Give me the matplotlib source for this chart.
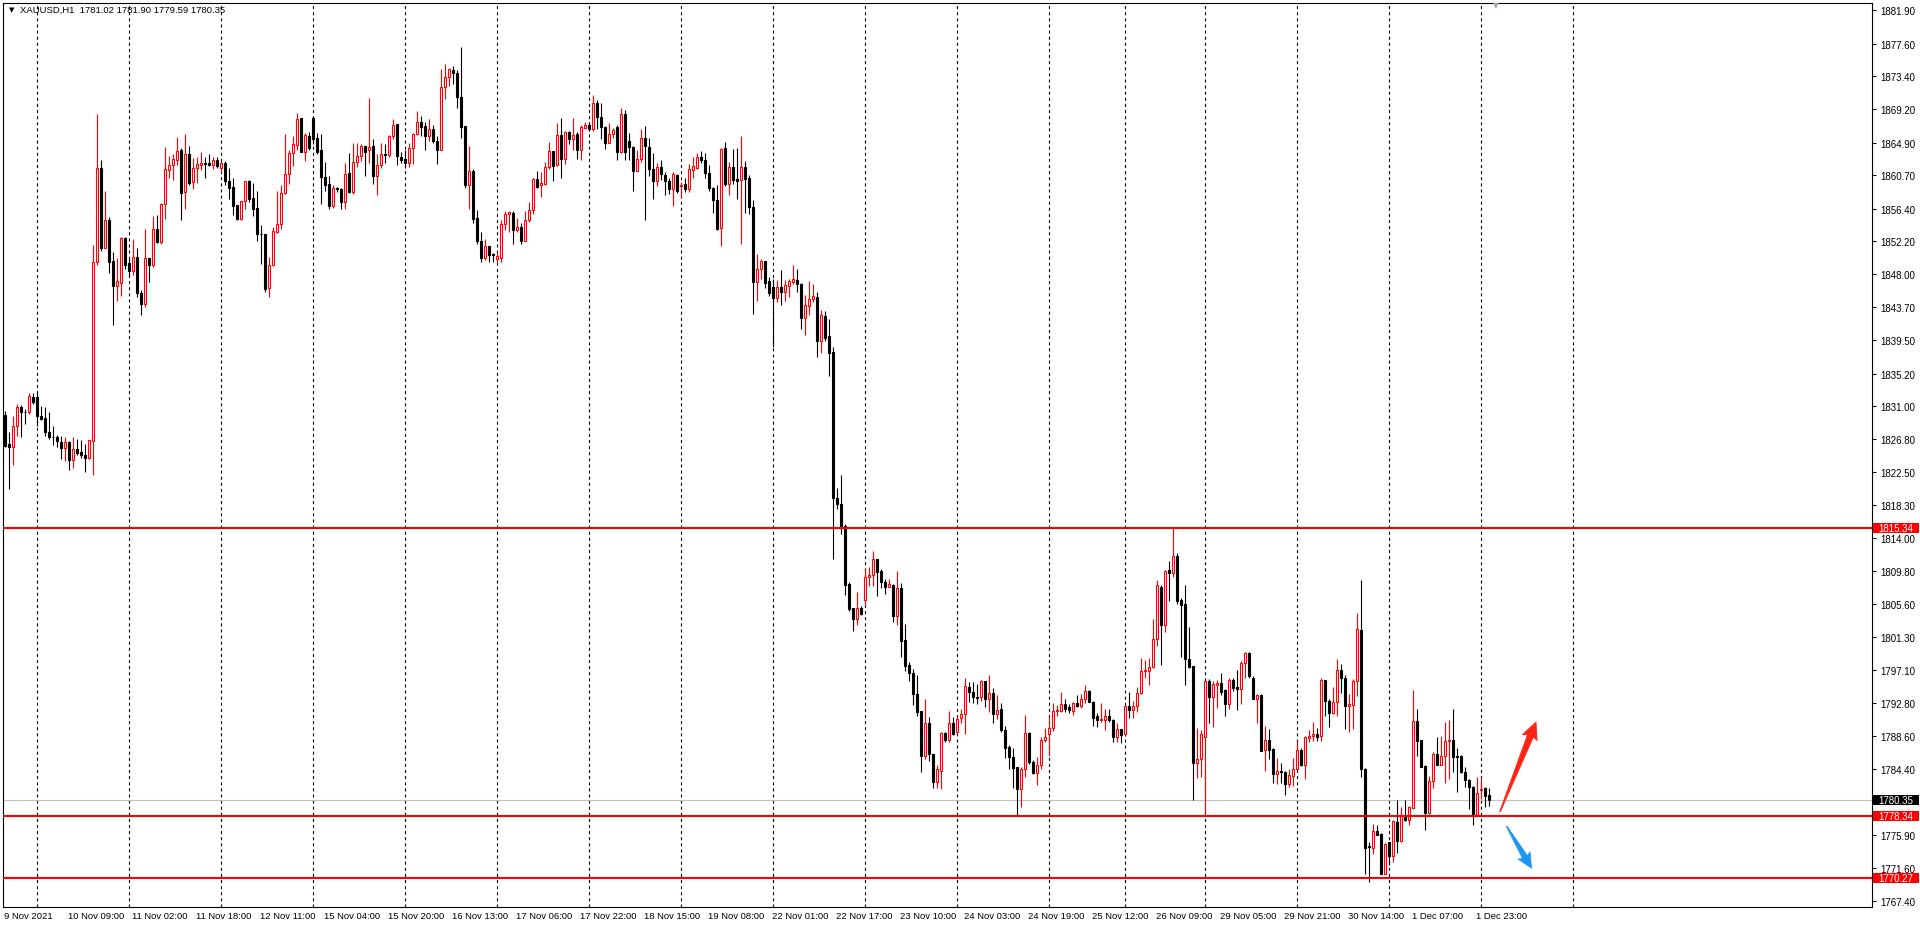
import numpy as np
import matplotlib
matplotlib.use("Agg")
import matplotlib.pyplot as plt
from matplotlib.patches import Polygon, Rectangle
from matplotlib.transforms import blended_transform_factory, IdentityTransform

plt.rcParams["font.family"] = ["Liberation Sans", "DejaVu Sans"]
plt.rcParams["lines.scale_dashes"] = False

# XAUUSD H1 bars (open, high, low, close), oldest first
opens = [
    1829.9, 1826.2, 1825.8, 1828.4, 1830.9, 1830.3, 1830.2, 1832.2, 1832.2, 1829.8,
    1829.5, 1827.7, 1827.1, 1827.1, 1826.4, 1825.6, 1826.4, 1824.1, 1825.5, 1825.1,
    1824.7, 1824.3, 1826.5, 1849.6, 1861.6, 1851.4, 1855.0, 1849.7, 1846.5, 1846.9,
    1852.6, 1849.4, 1848.4, 1850.2, 1845.6, 1844.2, 1850.0, 1849.2, 1853.8, 1852.1,
    1857.0, 1861.4, 1862.0, 1862.7, 1864.0, 1858.5, 1863.4, 1859.8, 1861.6, 1862.0,
    1862.3, 1862.3, 1862.0, 1862.7, 1861.6, 1862.3, 1859.9, 1859.2, 1856.9, 1855.1,
    1857.4, 1859.9, 1857.8, 1856.5, 1853.2, 1853.2, 1846.2, 1849.1, 1853.4, 1854.4,
    1858.4, 1860.8, 1863.5, 1864.6, 1868.1, 1863.7, 1865.8, 1868.1, 1865.5, 1863.9,
    1860.5, 1859.6, 1856.8, 1859.0, 1858.9, 1857.2, 1861.0, 1858.5, 1862.4, 1863.2,
    1864.4, 1863.9, 1864.4, 1860.6, 1862.0, 1863.4, 1863.3, 1865.7, 1867.3, 1863.1,
    1862.8, 1862.3, 1864.2, 1866.0, 1867.5, 1867.0, 1865.7, 1866.6, 1865.1, 1863.9,
    1872.1, 1873.3, 1874.2, 1873.9, 1870.7, 1867.0, 1859.4, 1861.3, 1855.2, 1852.2,
    1850.1, 1851.6, 1850.6, 1849.9, 1850.1, 1854.4, 1855.7, 1855.9, 1853.6, 1854.1,
    1852.3, 1854.9, 1856.2, 1860.2, 1859.4, 1859.6, 1861.7, 1863.8, 1862.0, 1865.9,
    1862.8, 1866.2, 1865.4, 1866.0, 1863.9, 1866.8, 1867.2, 1866.6, 1870.0, 1868.2,
    1866.9, 1864.9, 1866.0, 1866.9, 1863.7, 1868.6, 1865.1, 1864.3, 1861.3, 1862.8,
    1865.5, 1864.3, 1861.5, 1860.0, 1861.7, 1860.7, 1859.9, 1858.9, 1860.7, 1859.3,
    1859.6, 1858.9, 1861.4, 1861.6, 1863.1, 1862.7, 1861.0, 1859.1, 1857.5, 1853.9,
    1864.2, 1859.6, 1861.7, 1860.2, 1860.1, 1861.7, 1860.3, 1856.6, 1847.0, 1848.7,
    1849.7, 1847.1, 1846.3, 1844.9, 1846.3, 1845.7, 1846.4, 1847.0, 1847.2, 1846.7,
    1842.4, 1843.9, 1844.8, 1845.1, 1839.4, 1842.6, 1840.0, 1838.0, 1819.2, 1818.4,
    1815.6, 1808.1, 1805.1, 1803.6, 1805.1, 1806.1, 1809.0, 1809.3, 1811.3, 1809.8,
    1808.4, 1807.8, 1808.0, 1804.0, 1807.6, 1800.9, 1797.7, 1796.7, 1794.0, 1791.8,
    1786.0, 1790.3, 1786.3, 1782.7, 1784.1, 1789.0, 1788.1, 1790.3, 1789.1, 1790.9,
    1791.4, 1794.9, 1794.2, 1793.6, 1793.6, 1795.6, 1793.3, 1794.1, 1791.4, 1792.0,
    1789.3, 1787.2, 1785.9, 1784.6, 1781.8, 1784.4, 1789.0, 1785.3, 1783.8, 1784.8,
    1788.1, 1788.9, 1789.6, 1791.8, 1791.8, 1792.7, 1792.3, 1791.8, 1792.8, 1792.4,
    1793.3, 1794.4, 1793.0, 1791.1, 1790.7, 1790.7, 1791.1, 1790.7, 1788.4, 1789.5,
    1788.8, 1792.5, 1791.9, 1792.4, 1794.1, 1796.9, 1797.0, 1797.4, 1801.0, 1807.8,
    1802.8, 1809.9, 1809.6, 1811.7, 1806.1, 1805.6, 1798.5, 1797.6, 1785.1, 1785.6,
    1788.4, 1795.6, 1793.6, 1795.2, 1795.4, 1794.5, 1792.7, 1795.8, 1794.9, 1794.6,
    1798.0, 1799.3, 1796.1, 1793.4, 1793.9, 1786.8, 1788.1, 1786.9, 1783.7, 1784.1,
    1784.0, 1782.4, 1783.4, 1784.4, 1786.8, 1784.9, 1788.3, 1788.6, 1788.9, 1788.6,
    1795.8, 1793.1, 1791.6, 1792.9, 1797.1, 1796.1, 1792.4, 1792.6, 1795.6, 1802.2,
    1784.4, 1774.4, 1774.2, 1776.4, 1776.0, 1770.9, 1774.9, 1773.1, 1777.5, 1775.1,
    1778.3, 1777.8, 1779.3, 1790.5, 1788.1, 1784.7, 1778.7, 1782.8, 1786.3, 1784.9,
    1786.0, 1787.9, 1788.1, 1786.0, 1786.0, 1784.0, 1782.9, 1782.0, 1778.4, 1781.6,
    1781.9, 1781.02,
]
highs = [
    1830.4, 1827.7, 1829.8, 1831.3, 1831.2, 1830.6, 1832.7, 1832.7, 1832.7, 1831.0,
    1830.9, 1830.2, 1828.5, 1827.3, 1827.2, 1827.1, 1826.5, 1827.1, 1826.8, 1826.7,
    1826.2, 1826.7, 1851.7, 1868.6, 1862.6, 1858.7, 1855.3, 1850.8, 1850.0, 1852.7,
    1852.7, 1849.9, 1852.5, 1851.4, 1845.9, 1853.8, 1850.1, 1855.5, 1855.6, 1857.1,
    1864.3, 1863.2, 1863.4, 1865.6, 1864.2, 1866.0, 1864.5, 1862.9, 1863.0, 1863.7,
    1863.0, 1863.4, 1863.0, 1863.0, 1862.5, 1862.5, 1861.6, 1860.4, 1856.9, 1857.4,
    1860.0, 1860.1, 1859.7, 1858.7, 1854.3, 1853.2, 1850.2, 1854.0, 1858.7, 1859.4,
    1866.0, 1863.9, 1865.8, 1868.7, 1868.1, 1866.1, 1866.3, 1868.2, 1866.1, 1866.0,
    1862.4, 1860.6, 1859.4, 1859.2, 1859.0, 1862.3, 1863.6, 1864.8, 1864.8, 1864.7,
    1864.5, 1870.6, 1865.3, 1863.4, 1864.8, 1864.7, 1865.9, 1867.9, 1867.3, 1863.7,
    1863.9, 1864.8, 1866.1, 1869.0, 1868.3, 1867.6, 1867.9, 1867.2, 1865.7, 1874.4,
    1875.0, 1874.5, 1874.7, 1874.2, 1877.2, 1867.0, 1864.4, 1861.5, 1856.2, 1853.4,
    1852.5, 1851.6, 1850.7, 1850.8, 1854.9, 1856.1, 1856.1, 1856.1, 1855.2, 1854.6,
    1856.1, 1857.3, 1860.3, 1861.3, 1861.1, 1862.4, 1865.0, 1863.8, 1867.4, 1868.0,
    1866.4, 1866.4, 1868.0, 1866.2, 1867.1, 1867.5, 1867.5, 1871.0, 1870.4, 1870.0,
    1867.0, 1867.4, 1866.8, 1867.1, 1869.4, 1869.1, 1866.1, 1864.4, 1863.9, 1866.6,
    1867.0, 1865.5, 1863.6, 1862.3, 1862.7, 1861.1, 1860.4, 1861.1, 1860.9, 1859.8,
    1860.3, 1862.2, 1863.0, 1863.6, 1863.8, 1863.6, 1862.0, 1859.2, 1859.5, 1864.2,
    1865.0, 1862.4, 1864.1, 1864.2, 1865.7, 1862.5, 1860.7, 1857.5, 1850.6, 1849.9,
    1849.7, 1847.6, 1847.4, 1847.2, 1848.5, 1847.2, 1847.3, 1849.1, 1848.6, 1846.9,
    1845.3, 1847.1, 1846.7, 1845.7, 1843.4, 1843.2, 1842.2, 1838.6, 1820.5, 1822.2,
    1815.9, 1808.4, 1805.1, 1807.1, 1805.3, 1810.2, 1810.3, 1812.4, 1811.4, 1810.1,
    1808.8, 1808.8, 1808.1, 1809.8, 1808.3, 1803.0, 1798.1, 1797.2, 1796.4, 1791.8,
    1793.3, 1791.0, 1786.3, 1784.9, 1789.1, 1789.1, 1791.8, 1791.0, 1791.0, 1792.1,
    1796.0, 1795.5, 1795.5, 1795.3, 1795.8, 1795.7, 1796.4, 1794.7, 1793.9, 1792.8,
    1789.9, 1787.4, 1787.1, 1784.6, 1784.6, 1791.3, 1789.1, 1785.5, 1785.9, 1788.5,
    1789.6, 1791.1, 1792.8, 1792.6, 1794.2, 1793.3, 1792.7, 1793.0, 1793.8, 1794.0,
    1795.1, 1794.5, 1793.1, 1791.6, 1792.8, 1792.0, 1792.0, 1790.8, 1790.3, 1789.5,
    1792.6, 1794.3, 1793.1, 1794.9, 1798.6, 1798.3, 1798.6, 1803.6, 1808.6, 1808.0,
    1809.9, 1811.1, 1815.3, 1812.1, 1806.4, 1808.0, 1802.6, 1797.6, 1789.6, 1789.3,
    1795.7, 1795.9, 1795.7, 1795.8, 1796.7, 1794.6, 1796.0, 1796.0, 1797.1, 1798.2,
    1799.4, 1799.4, 1796.3, 1794.0, 1794.0, 1789.9, 1789.5, 1787.1, 1785.7, 1785.1,
    1784.1, 1784.4, 1785.7, 1788.0, 1787.0, 1788.6, 1789.3, 1790.4, 1789.6, 1796.0,
    1795.8, 1793.4, 1794.9, 1798.5, 1797.9, 1796.4, 1794.0, 1795.9, 1804.4, 1808.7,
    1784.5, 1774.9, 1777.3, 1777.1, 1776.1, 1774.8, 1775.0, 1777.8, 1780.3, 1779.4,
    1780.3, 1779.6, 1794.5, 1792.1, 1788.1, 1784.8, 1783.4, 1786.5, 1788.5, 1788.6,
    1790.4, 1790.6, 1792.1, 1787.1, 1786.1, 1784.6, 1783.1, 1782.1, 1783.3, 1783.2,
    1782.0, 1781.90,
]
lows = [
    1825.7, 1820.4, 1823.4, 1827.2, 1827.0, 1828.7, 1830.0, 1831.3, 1828.5, 1829.2,
    1827.2, 1826.8, 1826.0, 1825.7, 1824.2, 1824.0, 1822.8, 1823.0, 1824.7, 1824.4,
    1822.6, 1824.2, 1822.2, 1849.2, 1851.0, 1851.3, 1848.1, 1841.4, 1844.5, 1845.2,
    1848.7, 1847.8, 1847.9, 1845.1, 1842.7, 1843.7, 1847.0, 1848.9, 1852.0, 1851.9,
    1855.1, 1860.3, 1860.1, 1862.0, 1854.9, 1856.4, 1859.4, 1858.9, 1859.7, 1861.4,
    1860.3, 1861.9, 1861.5, 1861.6, 1861.1, 1859.5, 1857.7, 1855.6, 1855.0, 1855.0,
    1856.3, 1857.2, 1855.5, 1852.3, 1849.3, 1845.7, 1845.1, 1849.0, 1853.3, 1853.8,
    1858.3, 1859.6, 1861.9, 1864.0, 1863.7, 1862.5, 1863.9, 1864.7, 1863.4, 1857.0,
    1858.7, 1856.4, 1856.5, 1858.6, 1856.4, 1856.3, 1858.4, 1858.3, 1861.7, 1862.5,
    1860.6, 1862.3, 1859.6, 1858.2, 1861.6, 1862.3, 1863.0, 1865.3, 1862.0, 1862.3,
    1861.6, 1861.8, 1862.2, 1865.9, 1865.7, 1863.9, 1865.1, 1864.9, 1862.2, 1863.9,
    1870.5, 1872.2, 1872.4, 1869.3, 1865.5, 1859.0, 1856.4, 1854.6, 1851.9, 1849.6,
    1849.8, 1849.6, 1849.6, 1849.4, 1849.5, 1853.6, 1853.4, 1851.9, 1853.4, 1851.9,
    1852.2, 1854.7, 1855.7, 1859.1, 1857.9, 1859.4, 1861.5, 1859.9, 1861.9, 1860.3,
    1862.1, 1864.7, 1863.9, 1862.8, 1862.7, 1866.6, 1866.4, 1866.4, 1866.6, 1865.4,
    1864.1, 1864.9, 1865.5, 1862.6, 1863.6, 1862.6, 1862.7, 1858.7, 1861.2, 1862.4,
    1855.0, 1860.6, 1857.6, 1859.3, 1860.1, 1858.2, 1858.3, 1856.7, 1858.4, 1857.9,
    1858.5, 1858.6, 1860.3, 1861.5, 1862.3, 1860.3, 1858.7, 1855.9, 1853.6, 1851.6,
    1859.3, 1858.2, 1859.6, 1857.7, 1851.9, 1855.9, 1855.7, 1842.9, 1844.5, 1847.4,
    1846.2, 1845.2, 1838.6, 1844.4, 1844.0, 1844.5, 1845.1, 1846.7, 1845.7, 1840.9,
    1840.1, 1842.7, 1844.4, 1837.3, 1837.9, 1839.4, 1834.9, 1811.4, 1817.8, 1814.6,
    1806.7, 1804.7, 1802.1, 1802.8, 1804.2, 1805.3, 1807.9, 1807.9, 1806.6, 1807.6,
    1806.9, 1807.7, 1803.3, 1802.8, 1798.8, 1796.9, 1795.7, 1792.6, 1791.2, 1784.0,
    1785.6, 1785.4, 1781.9, 1781.9, 1781.8, 1787.8, 1787.8, 1788.7, 1788.9, 1790.3,
    1788.9, 1792.9, 1792.8, 1792.7, 1793.1, 1792.3, 1791.7, 1790.3, 1790.8, 1789.1,
    1785.7, 1784.4, 1781.9, 1778.4, 1779.4, 1783.3, 1785.0, 1783.7, 1782.3, 1784.4,
    1787.8, 1786.0, 1789.2, 1791.1, 1791.7, 1791.7, 1791.6, 1791.3, 1792.3, 1792.2,
    1792.8, 1792.9, 1789.9, 1789.7, 1790.4, 1789.3, 1790.4, 1787.8, 1787.8, 1787.7,
    1788.6, 1790.9, 1790.9, 1791.7, 1794.0, 1796.1, 1795.1, 1797.3, 1800.1, 1797.7,
    1801.9, 1805.9, 1809.1, 1805.6, 1798.8, 1795.2, 1797.3, 1780.3, 1783.2, 1783.3,
    1778.4, 1790.3, 1789.8, 1792.2, 1793.8, 1791.1, 1792.1, 1794.4, 1791.9, 1792.7,
    1796.1, 1796.1, 1793.4, 1790.3, 1786.6, 1784.1, 1785.6, 1782.6, 1782.4, 1782.5,
    1781.0, 1782.0, 1782.2, 1784.3, 1784.7, 1783.0, 1787.8, 1787.9, 1787.9, 1787.9,
    1791.2, 1789.8, 1791.4, 1791.2, 1794.1, 1789.5, 1789.1, 1789.5, 1793.7, 1783.3,
    1770.9, 1769.8, 1773.4, 1775.8, 1770.9, 1770.8, 1772.0, 1772.4, 1773.5, 1774.9,
    1777.7, 1777.2, 1779.3, 1786.0, 1784.6, 1776.5, 1778.6, 1781.9, 1784.8, 1784.8,
    1782.6, 1783.1, 1783.9, 1781.4, 1783.8, 1782.0, 1779.2, 1777.2, 1778.3, 1780.5,
    1779.5, 1779.59,
]
closes = [
    1825.9, 1825.8, 1828.4, 1830.9, 1830.2, 1830.2, 1832.3, 1831.6, 1829.8, 1829.4,
    1827.7, 1827.1, 1827.0, 1826.5, 1825.6, 1826.4, 1824.1, 1825.5, 1825.0, 1824.7,
    1824.3, 1826.6, 1849.6, 1861.6, 1851.3, 1855.0, 1849.6, 1846.5, 1847.1, 1852.6,
    1849.1, 1848.4, 1850.2, 1845.5, 1844.2, 1850.0, 1849.2, 1853.8, 1852.1, 1857.0,
    1861.5, 1862.0, 1862.8, 1863.8, 1858.4, 1863.4, 1859.7, 1861.6, 1862.1, 1862.3,
    1862.2, 1862.0, 1862.7, 1861.9, 1862.3, 1859.9, 1859.1, 1856.8, 1855.1, 1857.4,
    1859.9, 1857.7, 1856.3, 1853.2, 1853.1, 1846.1, 1849.2, 1853.5, 1854.4, 1858.4,
    1860.9, 1863.6, 1864.7, 1867.9, 1863.7, 1865.9, 1864.2, 1865.4, 1863.7, 1860.5,
    1859.5, 1856.8, 1859.0, 1858.9, 1857.2, 1860.9, 1858.5, 1862.4, 1863.2, 1864.4,
    1863.7, 1864.3, 1860.6, 1862.0, 1863.4, 1863.3, 1865.7, 1867.1, 1863.2, 1862.7,
    1862.3, 1864.2, 1866.0, 1867.5, 1866.9, 1865.7, 1866.6, 1865.1, 1863.9, 1872.1,
    1873.3, 1874.3, 1873.9, 1870.7, 1866.9, 1859.4, 1861.2, 1855.1, 1852.2, 1850.1,
    1851.6, 1850.5, 1850.5, 1850.3, 1854.4, 1855.7, 1856.0, 1853.6, 1854.1, 1852.2,
    1854.9, 1856.2, 1860.2, 1859.2, 1859.7, 1861.7, 1863.8, 1861.9, 1865.9, 1862.8,
    1866.2, 1865.4, 1865.9, 1863.9, 1866.9, 1867.2, 1866.6, 1870.0, 1868.2, 1866.9,
    1864.9, 1866.0, 1866.5, 1863.7, 1868.6, 1863.7, 1864.3, 1861.3, 1862.8, 1865.5,
    1864.5, 1861.5, 1860.0, 1861.7, 1860.8, 1859.9, 1858.9, 1860.8, 1858.7, 1859.5,
    1858.9, 1861.5, 1861.9, 1863.1, 1862.6, 1861.0, 1859.1, 1857.5, 1853.8, 1864.1,
    1859.6, 1861.7, 1860.1, 1860.0, 1861.7, 1860.2, 1856.6, 1847.0, 1848.7, 1849.7,
    1846.9, 1845.6, 1844.9, 1846.3, 1845.7, 1846.6, 1847.1, 1847.4, 1846.7, 1842.4,
    1844.0, 1844.8, 1845.2, 1839.4, 1842.7, 1839.8, 1837.9, 1819.2, 1818.4, 1815.6,
    1808.0, 1804.9, 1803.6, 1805.1, 1804.3, 1809.0, 1809.3, 1811.3, 1809.7, 1808.4,
    1807.8, 1808.1, 1804.0, 1807.6, 1800.8, 1797.6, 1796.7, 1794.0, 1791.7, 1786.0,
    1790.3, 1786.3, 1782.7, 1784.3, 1789.0, 1788.1, 1790.3, 1788.8, 1790.8, 1791.4,
    1795.0, 1794.2, 1793.6, 1793.5, 1795.6, 1793.3, 1794.1, 1791.4, 1791.9, 1789.3,
    1787.1, 1785.9, 1784.5, 1781.8, 1784.4, 1789.0, 1785.3, 1783.8, 1784.9, 1788.1,
    1788.4, 1789.6, 1791.8, 1791.9, 1792.7, 1792.0, 1791.9, 1792.8, 1792.4, 1793.3,
    1794.4, 1793.0, 1790.9, 1790.7, 1790.8, 1791.1, 1790.6, 1788.4, 1789.5, 1788.7,
    1792.5, 1791.9, 1792.4, 1794.1, 1796.9, 1797.1, 1797.4, 1801.1, 1808.0, 1802.8,
    1809.8, 1809.6, 1811.7, 1806.0, 1805.5, 1798.5, 1797.4, 1785.1, 1785.6, 1788.9,
    1795.6, 1793.6, 1795.3, 1795.4, 1794.3, 1792.7, 1795.8, 1794.7, 1794.6, 1798.0,
    1799.3, 1796.3, 1793.4, 1793.9, 1786.7, 1788.1, 1786.8, 1783.7, 1784.1, 1784.0,
    1782.4, 1783.6, 1784.4, 1786.8, 1784.9, 1788.4, 1788.6, 1788.9, 1788.4, 1795.8,
    1793.1, 1791.6, 1792.9, 1797.1, 1796.0, 1792.4, 1792.7, 1795.6, 1802.4, 1784.4,
    1774.2, 1774.3, 1776.4, 1775.9, 1770.9, 1774.7, 1773.1, 1777.6, 1775.1, 1778.4,
    1777.8, 1779.4, 1790.5, 1788.0, 1784.6, 1778.7, 1782.8, 1786.3, 1784.9, 1786.0,
    1788.0, 1788.1, 1785.9, 1785.9, 1784.0, 1782.9, 1782.0, 1778.4, 1781.3, 1781.8,
    1780.9, 1780.35,
]

# horizontal levels drawn on the chart
levels = [1815.34, 1778.34, 1770.27]
bid = 1780.35

# price scale labels (right side)
price_ticks = [1881.90, 1877.60, 1873.40, 1869.20, 1864.90, 1860.70, 1856.40, 1852.20,
               1848.00, 1843.70, 1839.50, 1835.20, 1831.00, 1826.80, 1822.50, 1818.30,
               1814.00, 1809.80, 1805.60, 1801.30, 1797.10, 1792.80, 1788.60, 1784.40,
               1775.90, 1771.60, 1767.40]

# time scale labels, one every 16 bars
time_labels = ["9 Nov 2021", "10 Nov 09:00", "11 Nov 02:00", "11 Nov 18:00", "12 Nov 11:00",
               "15 Nov 04:00", "15 Nov 20:00", "16 Nov 13:00", "17 Nov 06:00", "17 Nov 22:00",
               "18 Nov 15:00", "19 Nov 08:00", "22 Nov 01:00", "22 Nov 17:00", "23 Nov 10:00",
               "24 Nov 03:00", "24 Nov 19:00", "25 Nov 12:00", "26 Nov 09:00", "29 Nov 05:00",
               "29 Nov 21:00", "30 Nov 14:00", "1 Dec 07:00", "1 Dec 23:00"]
label_step = 16
grid_bars = [8, 31, 54, 77, 100, 123, 146, 169, 192, 215, 238, 261, 280, 300, 323, 346, 369, 392]

W, H = 1920, 928
fig = plt.figure(figsize=(W / 100, H / 100), dpi=100)
fig.patch.set_facecolor("white")
ax = fig.add_axes([3 / W, 1 - 908 / H, (1872 - 3) / W, (908 - 4) / H])

o = np.array(opens); h = np.array(highs); l = np.array(lows); c = np.array(closes)
x = np.arange(len(o))
up = c >= o

ax.set_xlim(-0.6, 466.7)
ax.set_ylim(1766.6, 1882.85)

for g in grid_bars:
    ax.axvline(g, color="black", lw=0.8, ls=(0, (2.2, 2.2)), zorder=1)

ax.vlines(x[up], l[up], h[up], color="#ff0000", lw=0.8, zorder=2)
ax.vlines(x[~up], l[~up], h[~up], color="black", lw=0.8, zorder=2)
bw = 0.55
ax.bar(x[up], (c - o)[up], bottom=o[up], width=bw, facecolor="white",
       edgecolor="#ff0000", linewidth=0.8, zorder=3)
ax.bar(x[~up], (o - c)[~up], bottom=c[~up], width=bw, facecolor="black",
       edgecolor="black", linewidth=0.8, zorder=3)

ax.axhline(bid, color="#c0c0c0", lw=0.8, zorder=1.5)
for lv in levels:
    ax.axhline(lv, color="#ff0000", lw=1.5, zorder=4)

# axes styling
for s in ax.spines.values():
    s.set_color("black")
    s.set_linewidth(0.8)
ax.set_xticks([])
ax.yaxis.tick_right()
ax.set_yticks(price_ticks)
ax.set_yticklabels([f"{v:.2f}" for v in price_ticks])
ax.tick_params(axis="y", length=3, width=0.8, pad=3, labelsize=7, colors="black")

# price tags on the scale
tr = blended_transform_factory(fig.transFigure, ax.transData)
tag_h = 10 / 7.776
for val, col in [(levels[0], "#ff0000"), (bid, "black"), (levels[1], "#ff0000"), (levels[2], "#ff0000")]:
    fig.patches.append(Rectangle((1873 / W, val - tag_h / 2), 46 / W, tag_h, transform=tr,
                                 facecolor=col, edgecolor="none", zorder=5))
    fig.text(1878 / W, val, f"{val:.2f}", transform=tr, color="white", fontsize=7,
             va="center", ha="left", zorder=6)

# time labels
trx = blended_transform_factory(ax.transData, fig.transFigure)
for k, lab in enumerate(time_labels):
    ax.text(k * label_step - 0.3, 1 - 917 / H, lab, transform=trx, fontsize=6.8,
            ha="left", va="center", clip_on=False)

# header
fig.text(9 / W, 1 - 10 / H, "\u25bc", fontsize=5, family="DejaVu Sans", va="center", ha="left")
fig.text(20 / W, 1 - 10 / H, "XAUUSD,H1  1781.02 1781.90 1779.59 1780.35", fontsize=6.8,
         va="center", ha="left")
fig.text(1496 / W, 1 - 6 / H, "\u25bc", fontsize=5.5, family="DejaVu Sans", color="#a8a8a8",
         va="center", ha="center")


def tapered_arrow(tail, tip, color, head_len=15, head_half=8, shaft_head=3.2, shaft_tail=0.4):
    T = ax.transData.transform(tail)
    P = ax.transData.transform(tip)
    d = P - T
    u = d / np.hypot(*d)
    n = np.array([-u[1], u[0]])
    B = P - u * head_len
    pts = [T + n * shaft_tail, B + n * shaft_head, B - u * 2 + n * head_half, P,
           B - u * 2 - n * head_half, B - n * shaft_head, T - n * shaft_tail]
    fig.patches.append(Polygon(pts, closed=True, transform=IdentityTransform(),
                               facecolor=color, edgecolor=color, lw=0.5, zorder=7))


tapered_arrow((373.7, 1778.86), (382.7, 1790.4), "#ff2314")
tapered_arrow((375.35, 1776.98), (381.6, 1771.58), "#1e96f0", head_len=13, head_half=7,
              shaft_head=2.8)

fig.savefig("out.png", dpi=100, facecolor="white")
